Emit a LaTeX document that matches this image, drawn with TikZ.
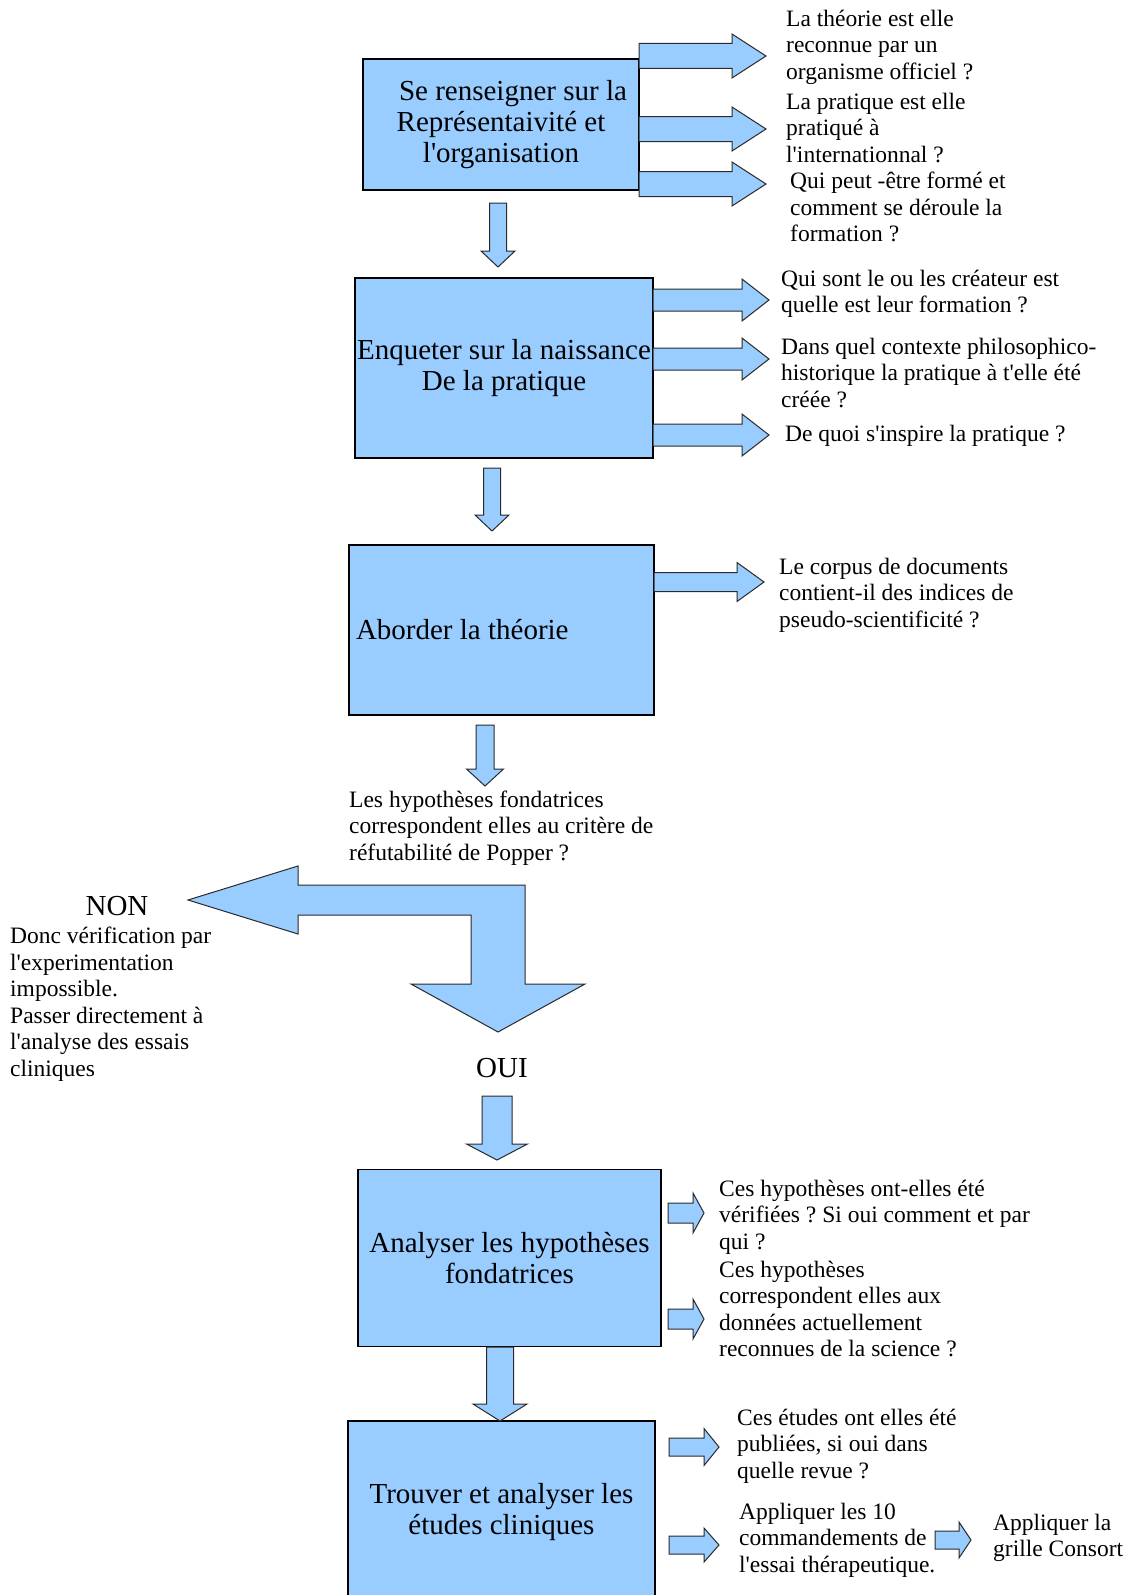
\documentclass[tikz,border=0pt]{standalone}
\usepackage{fontspec}
\setmainfont{Liberation Serif}
\definecolor{boxblue}{HTML}{99CCFF}
\definecolor{edgegray}{HTML}{2A2A2A}
\newcommand\ap{\textquotesingle}
\newcommand\rarr[6]{% x start, x tip, y centre, shaft half, head half, head length
  \draw[arr] ({#1},{#3-#4}) -- ({#2-#6},{#3-#4}) -- ({#2-#6},{#3-#5}) -- ({#2},{#3})
    -- ({#2-#6},{#3+#5}) -- ({#2-#6},{#3+#4}) -- ({#1},{#3+#4}) -- cycle;}
\newcommand\darr[6]{% x centre, y start, y tip, shaft half, head half, head length
  \draw[arr] ({#1-#4},{#2}) -- ({#1-#4},{#3-#6}) -- ({#1-#5},{#3-#6}) -- ({#1},{#3})
    -- ({#1+#5},{#3-#6}) -- ({#1+#4},{#3-#6}) -- ({#1+#4},{#2}) -- cycle;}
\tikzset{
  stepbox/.style={draw=black, line width=1.3pt, fill=boxblue, inner sep=0pt,
    font=\fontsize{29}{31}\selectfont\frenchspacing, align=center},
  arr/.style={draw=edgegray, line width=1pt, fill=boxblue, line join=miter},
  note/.style={inner sep=0pt, anchor=west, align=left,
    font=\fontsize{23.5}{26.5}\selectfont\frenchspacing},
  bigtxt/.style={inner sep=0pt, font=\fontsize{29}{31}\selectfont}
}
\begin{document}
\begin{tikzpicture}[x=1pt,y=-1pt]
\useasboundingbox (0,0) rectangle (1137,1595);
\clip (0,0) rectangle (1137,1595);
\fill[white] (0,0) rectangle (1137,1595);

% ---------- boxes ----------
\node[stepbox, minimum width=276, minimum height=131] (b1) at (501,124.5)
  {\hspace*{24pt}Se renseigner sur la\\Représentaivité et\\l\ap organisation};
\node[stepbox, minimum width=298, minimum height=180] (b2) at (504,368)
  {Enqueter sur la naissance\\De la pratique};
\node[stepbox, minimum width=305, minimum height=170, text width=291, inner xsep=7pt, align=flush left] (b3) at (501.5,630)
  {Aborder la théorie};
\node[stepbox, minimum width=303, minimum height=177] (b4) at (509.5,1258)
  {Analyser les hypothèses\\fondatrices};
\node[stepbox, minimum width=307, minimum height=182] (b5) at (501.5,1512)
  {Trouver et analyser les\\études cliniques};

% ---------- box 1 ----------
\rarr{639}{766}{56}{12.5}{22}{34}
\rarr{639}{766}{129}{12.5}{22}{34}
\rarr{639}{766}{184}{12.5}{22}{34}
\node[note] (q11) at (786,47) {La théorie est elle\\reconnue par un\\organisme officiel ?};
\node[note] (q12) at (786,128) {La pratique est elle\\pratiqué à\\l\ap internationnal ?};
\node[note] (q13) at (790,207) {Qui peut -être formé et\\comment se déroule la\\formation ?};
\darr{498}{203}{267}{8.5}{17}{16}

% ---------- box 2 ----------
\rarr{653}{769}{300}{11}{21}{27}
\rarr{653}{769}{359}{11}{21}{27}
\rarr{653}{769}{435}{11}{21}{27}
\node[note] (q21) at (781,294) {Qui sont le ou les créateur est\\quelle est leur formation ?};
\node[note] (q22) at (781,373) {Dans quel contexte philosophico-\\historique la pratique à t\ap elle été\\créée ?};
\node[note] (q23) at (785,436) {De quoi s\ap inspire la pratique ?};
\darr{492}{468}{531}{8.5}{17}{16}

% ---------- box 3 ----------
\rarr{654}{764}{582}{9.5}{19.5}{27}
\node[note] (q31) at (779,595) {Le corpus de documents\\contient-il des indices de\\pseudo-scientificité ?};
\darr{485}{725}{786}{9}{18.5}{17}
\node[note] (q32) at (349,828) {Les hypothèses fondatrices\\correspondent elles au critère de\\réfutabilité de Popper ?};

% ---------- decision arrow ----------
\draw[arr] (188,900) -- (298,866) -- (298,885) -- (525,885) -- (525,984) -- (585,984)
  -- (498,1032) -- (411,984) -- (471,984) -- (471,915) -- (298,915) -- (298,934) -- cycle;
\node[bigtxt] (non) at (117,906) {NON};
\node[note] (nontxt) at (10,1004) {Donc vérification par\\l\ap experimentation\\impossible.\\Passer directement à\\l\ap analyse des essais\\cliniques};
\node[bigtxt] (oui) at (502,1068) {OUI};
\darr{497}{1096}{1160}{15}{30.5}{16}

% ---------- box 4 ----------
\rarr{668}{704}{1213}{10}{20}{11}
\rarr{668}{704}{1319}{10}{20}{11}
\node[note] (q41) at (719,1217) {Ces hypothèses ont-elles été\\vérifiées ? Si oui comment et par\\qui ?};
\node[note] (q42) at (719,1309) {Ces hypothèses\\correspondent elles aux\\données actuellement\\reconnues de la science ?};
\darr{500}{1347}{1421}{13.5}{27}{17}

% ---------- box 5 ----------
\rarr{669}{719}{1447}{9}{18.5}{15}
\rarr{669}{719}{1545}{9}{17}{15}
\node[note] (q51) at (737,1446) {Ces études ont elles été\\publiées, si oui dans\\quelle revue ?};
\node[note] (q52) at (739,1540) {Appliquer les 10\\commandements de\\l\ap essai thérapeutique.};
\rarr{935}{971}{1540}{9}{18}{12}
\node[note] (q53) at (993,1538) {Appliquer la\\grille Consort};
\end{tikzpicture}
\end{document}
